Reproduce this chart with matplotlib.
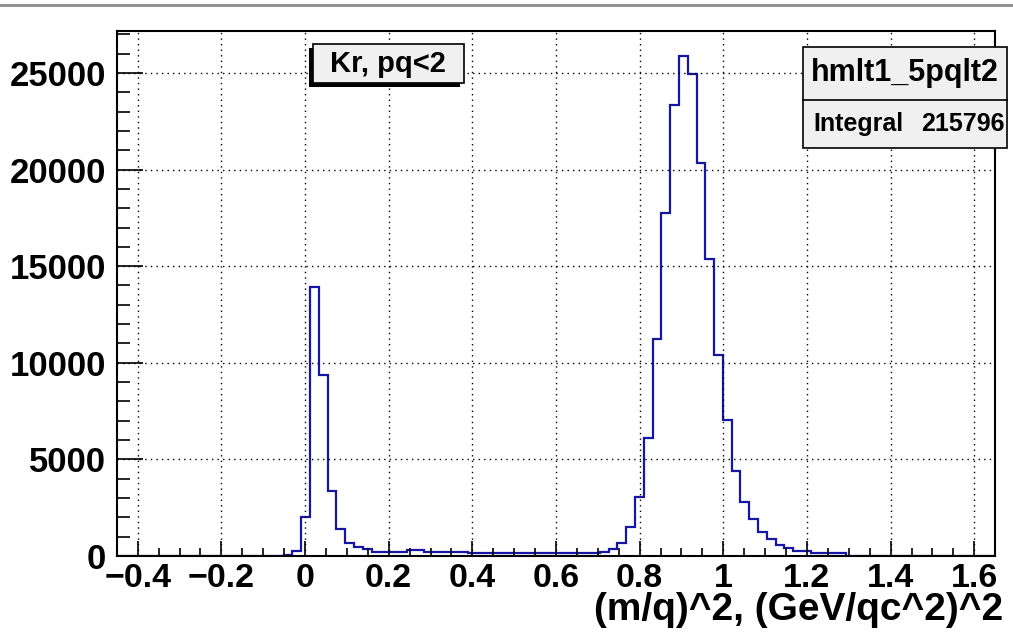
import numpy as np
import matplotlib
matplotlib.use("Agg")
import matplotlib.pyplot as plt
from matplotlib.patches import Rectangle
from matplotlib.lines import Line2D
from matplotlib.ticker import FixedLocator, FixedFormatter, MultipleLocator

# ---------------- data ----------------
x_min, x_max, n_bins = -0.45, 1.65, 100
first_bin = 19
counts_nonzero = [
    50, 254, 2014, 13936, 9350, 3360, 1377, 683, 476, 341,          # bins 19-28
    217, 217, 217, 217, 330, 330, 217, 217, 217, 217,              # bins 29-38
    217, 135, 135, 135, 135, 135, 135, 135, 135, 135,              # bins 39-48
    135, 135, 135, 135, 135, 135, 217, 341, 652, 1481,             # bins 49-58
    3034, 6119, 11229, 17752, 23343, 25880, 24932, 20325, 15355, 10385,  # bins 59-68
    7036, 4411, 2806, 1895, 1253, 859, 564, 409, 254, 228,         # bins 69-78
    150, 135, 135, 135,                                            # bins 79-82
]
x_ticks = [-0.4, -0.2, 0.0, 0.2, 0.4, 0.6, 0.8, 1.0, 1.2, 1.4, 1.6]
x_tick_labels = ["\u22120.4", "\u22120.2", "0", "0.2", "0.4", "0.6", "0.8", "1", "1.2", "1.4", "1.6"]
y_ticks = [0, 5000, 10000, 15000, 20000, 25000]
y_tick_labels = ["0", "5000", "10000", "15000", "20000", "25000"]
x_title = "(m/q)^2, (GeV/qc^2)^2"
hist_title = "Kr, pq<2"
stats_name = "hmlt1_5pqlt2"
stats_label = "Integral"
stats_value = "215796"

counts = np.zeros(n_bins)
counts[first_bin:first_bin + len(counts_nonzero)] = counts_nonzero
edges = np.linspace(x_min, x_max, n_bins + 1)

# ---------------- figure ----------------
W, H = 1013, 635
plt.rcParams["font.family"] = ["Liberation Sans", "DejaVu Sans"]
plt.rcParams["font.weight"] = "bold"
fig = plt.figure(figsize=(W / 100, H / 100), dpi=100)

def fx(x):
    return x / W

def fy(y):
    return 1 - y / H

ax_l, ax_r, ax_t, ax_b = 116.8, 995.2, 31.0, 555.9
ax = fig.add_axes([fx(ax_l), fy(ax_b), fx(ax_r) - fx(ax_l), fy(ax_t) - fy(ax_b)])

ax.stairs(counts, edges, color="#1616a6", linewidth=1.6, baseline=0)
ax.set_xlim(x_min, x_max)
ax.set_ylim(0, counts.max() * 1.05)

ax.xaxis.set_major_locator(FixedLocator(x_ticks))
ax.xaxis.set_major_formatter(FixedFormatter(x_tick_labels))
ax.xaxis.set_minor_locator(MultipleLocator(0.05))
ax.yaxis.set_major_locator(FixedLocator(y_ticks))
ax.yaxis.set_major_formatter(FixedFormatter(y_tick_labels))
ax.yaxis.set_minor_locator(MultipleLocator(1000))

ax.tick_params(axis="x", which="major", direction="in", length=11, width=1.2,
               labelsize=24.5, pad=5)
ax.tick_params(axis="x", which="minor", direction="in", length=5.5, width=1.2)
ax.tick_params(axis="y", which="major", direction="in", length=19, width=1.2,
               labelsize=25, pad=8)
ax.tick_params(axis="y", which="minor", direction="in", length=9.5, width=1.2)
for lab in ax.get_xticklabels() + ax.get_yticklabels():
    lab.set_fontweight("bold")

ax.grid(True, which="major", color="black", linestyle=(0, (1, 3)), linewidth=1.0)
ax.set_axisbelow(False)
for s in ax.spines.values():
    s.set_linewidth(1.5)
    s.set_color("black")

# x axis title (right aligned)
fig.text(fx(1003), fy(620), x_title, ha="right", va="baseline",
         fontsize=28, fontweight="bold")

# top gray border line of canvas
fig.add_artist(Line2D([0, 1], [fy(5), fy(5)], transform=fig.transFigure,
                      color="#8c8c8c", linewidth=2))

# title box "Kr, pq<2" with shadow to bottom-left
bx0, bx1, by0, by1 = 312.7, 464.0, 44.0, 83.3
sh = 4
fig.add_artist(Rectangle((fx(bx0 - sh), fy(by1 + sh)), fx(bx1 - bx0), fy(by0) - fy(by1),
                         transform=fig.transFigure, facecolor="black", edgecolor="none"))
fig.add_artist(Rectangle((fx(bx0), fy(by1)), fx(bx1 - bx0), fy(by0) - fy(by1),
                         transform=fig.transFigure, facecolor="#f0f0f0",
                         edgecolor="black", linewidth=1.2))
fig.text(fx((bx0 + bx1) / 2), fy((by0 + by1) / 2), hist_title, ha="center",
         va="center", fontsize=21, fontweight="bold")

# stats box
sx0, sx1, sy0, sy1, sdiv = 803.3, 1007.0, 46.7, 148.0, 100.0
fig.add_artist(Rectangle((fx(sx0), fy(sy1)), fx(sx1 - sx0), fy(sy0) - fy(sy1),
                         transform=fig.transFigure, facecolor="#f0f0f0",
                         edgecolor="black", linewidth=1.2))
fig.add_artist(Line2D([fx(sx0), fx(sx1)], [fy(sdiv), fy(sdiv)],
                      transform=fig.transFigure, color="black", linewidth=1.2))
fig.text(fx((sx0 + sx1) / 2), fy((sy0 + sdiv) / 2), stats_name, ha="center",
         va="center", fontsize=22, fontweight="bold")
fig.text(fx(813), fy((sdiv + sy1) / 2), stats_label, ha="left",
         va="center", fontsize=18, fontweight="bold")
fig.text(fx(1005), fy((sdiv + sy1) / 2), stats_value, ha="right",
         va="center", fontsize=18, fontweight="bold")

fig.savefig("out.png", dpi=100, facecolor="white")
